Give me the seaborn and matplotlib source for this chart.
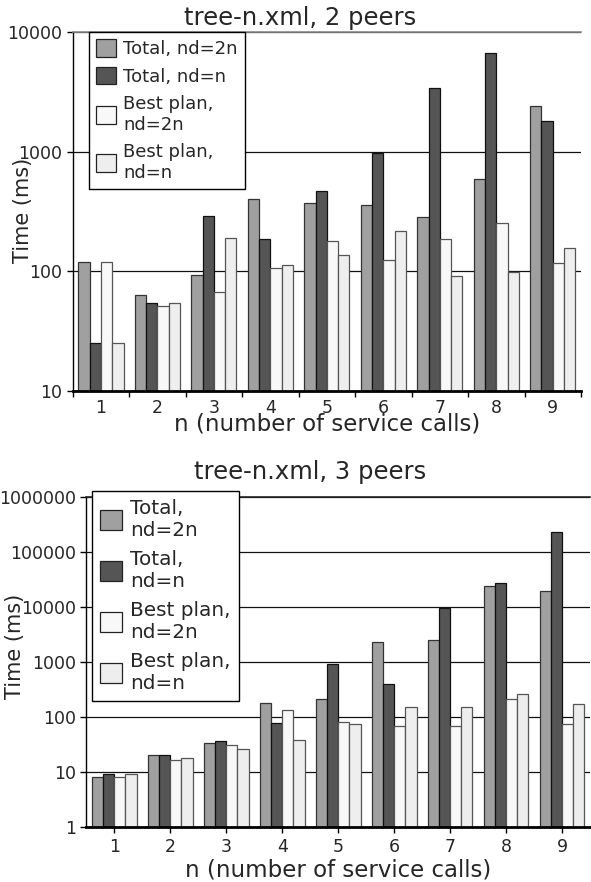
import numpy as np
import pandas as pd
import matplotlib
matplotlib.use("Agg")
import matplotlib.pyplot as plt
import matplotlib.ticker as mticker
import seaborn as sns

sns.set_style("white")
plt.rcParams['font.family'] = ['DejaVu Sans']

n_values = ["1", "2", "3", "4", "5", "6", "7", "8", "9"]
series = ["Total, nd=2n", "Total, nd=n", "Best plan, nd=2n", "Best plan, nd=n"]
colors = ["#a0a0a0", "#555555", "#f8f8f8", "#eeeeee"]
edges = ["#333333", "#111111", "#555555", "#555555"]

# 2 peers
p2_total_2n = [120, 63, 93, 402, 372, 356, 284, 590, 2415]
p2_total_n = [25, 54, 290, 187, 466, 973, 3380, 6740, 1790]
p2_best_2n = [120, 51, 67, 107, 180, 124, 187, 252, 117]
p2_best_n = [25, 54, 190, 113, 136, 218, 91, 99, 158]

# 3 peers
p3_total_2n = [8.1, 21, 34, 180, 218, 2375, 2515, 24100, 19800]
p3_total_n = [9.2, 21, 37, 80, 933, 398, 9590, 27700, 237000]
p3_best_2n = [8.1, 17, 32, 138, 81, 69, 69, 212, 74]
p3_best_n = [9.2, 18, 26, 38, 77, 152, 154, 265, 172]

legend_top = ["Total, nd=2n", "Total, nd=n", "Best plan,\nnd=2n", "Best plan,\nnd=n"]
legend_bot = ["Total,\nnd=2n", "Total,\nnd=n", "Best plan,\nnd=2n", "Best plan,\nnd=n"]

yticks_top = [10, 100, 1000, 10000]
yticks_bot = [1, 10, 100, 1000, 10000, 100000, 1000000]


def make_df(cols):
    rows = []
    for s, vals in zip(series, cols):
        for n, v in zip(n_values, vals):
            rows.append({"n": n, "series": s, "time": v})
    return pd.DataFrame(rows)


fig = plt.figure(figsize=(5.91, 8.82), dpi=100)
ax1 = fig.add_axes([72.7 / 591, 1 - 391 / 882, (581 - 72.7) / 591, (391 - 32) / 882])
ax2 = fig.add_axes([86.3 / 591, 1 - 827.3 / 882, (590 - 86.3) / 591, (827.3 - 497.3) / 882])


def draw(ax, df, yticks, title, labels, between_ticks, leg_anchor, leg_fs, leg_sp,
         title_x, title_pad, xlab_y, ylab_x, ylab_y):
    ax.set_yscale("log")
    ax.set_axisbelow(True)
    sns.barplot(data=df, x="n", y="time", hue="series", hue_order=series,
                palette=colors, ax=ax, width=0.8, saturation=1,
                edgecolor="#222222", linewidth=0.9, legend=False)
    for i, cont in enumerate(ax.containers):
        for b in cont:
            b.set_edgecolor(edges[i])
    ax.set_ylim(yticks[0], yticks[-1])
    ax.set_xlim(-0.5, 8.5)
    ax.yaxis.set_major_locator(mticker.FixedLocator(yticks))
    ax.yaxis.set_minor_locator(mticker.NullLocator())
    ax.yaxis.set_major_formatter(mticker.FixedFormatter([str(t) for t in yticks]))
    ax.yaxis.grid(True, color="#111111", linewidth=0.9)
    ax.xaxis.grid(False)
    if between_ticks:
        ax.set_xticks(np.arange(-0.5, 9.0, 1.0))
        ax.set_xticklabels([""] * 10)
        ax.set_xticks(np.arange(9), minor=True)
        ax.set_xticklabels(n_values, minor=True)
        ax.tick_params(axis="x", which="minor", length=0, labelsize=12.5, pad=6)
    else:
        ax.set_xticks(np.arange(9))
        ax.set_xticklabels(n_values)
    ax.tick_params(axis="x", which="major", direction="out", length=4, width=1,
                   color="black", labelsize=12.5, bottom=True)
    ax.tick_params(axis="y", which="major", direction="out", length=4, width=1,
                   color="black", labelsize=12.5, left=True)
    ax.spines["right"].set_visible(False)
    ax.spines["top"].set_color("#888888")
    ax.spines["top"].set_linewidth(1.2)
    ax.spines["left"].set_color("black")
    ax.spines["left"].set_linewidth(1.0)
    ax.spines["bottom"].set_color("black")
    ax.spines["bottom"].set_linewidth(2.0)
    ax.set_xlabel("n (number of service calls)", fontsize=16.5)
    ax.set_ylabel("Time (ms)", fontsize=15)
    ax.xaxis.set_label_coords(0.5, xlab_y)
    ax.yaxis.set_label_coords(ylab_x, ylab_y)
    ax.set_title(title, fontsize=17.5, pad=title_pad, x=title_x)
    handles = [plt.Rectangle((0, 0), 1, 1, facecolor=c, edgecolor="#222222", linewidth=0.9)
               for c in colors]
    leg = ax.legend(handles, labels, loc="upper left", bbox_to_anchor=leg_anchor,
                    fontsize=leg_fs, frameon=True, fancybox=False, framealpha=1,
                    edgecolor="black", handlelength=1.1, handleheight=1.1,
                    handletextpad=0.4, labelspacing=leg_sp, borderpad=0.4,
                    borderaxespad=0)
    leg.get_frame().set_linewidth(1.0)
    leg.set_zorder(10)


draw(ax1, make_df([p2_total_2n, p2_total_n, p2_best_2n, p2_best_n]), yticks_top,
     "tree-n.xml, 2 peers", legend_top, True, (16 / 508.3, 1.0), 13, 0.5,
     0.448, 5, -0.06, -0.078, 0.504)
draw(ax2, make_df([p3_total_2n, p3_total_n, p3_best_2n, p3_best_n]), yticks_bot,
     "tree-n.xml, 3 peers", legend_bot, False, (6 / 503.7, 1.0 + 6.6 / 330), 14.4, 0.5,
     0.444, 13, -0.096, -0.1217, 0.548)
ax2.spines["top"].set_color("#222222")

fig.savefig("out.png", dpi=100)
